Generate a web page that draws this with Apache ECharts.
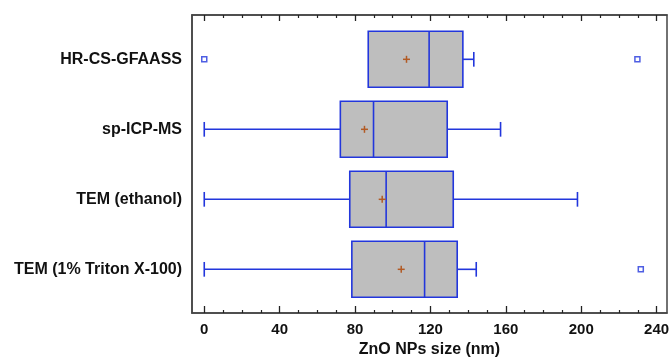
<!DOCTYPE html>
<html>
<head>
<meta charset="utf-8">
<script src="https://cdn.jsdelivr.net/npm/echarts@6/dist/echarts.min.js"></script>
<style>html,body{margin:0;padding:0;background:#fff}#c{width:670px;height:358px}</style>
</head>
<body>
<div id="c"></div>
<script>
const categories = ['HR-CS-GFAASS', 'sp-ICP-MS', 'TEM (ethanol)', 'TEM (1% Triton X-100)'];
const whiskerLow = [87, 0, 0, 0];
const q1 = [87, 72.2, 77.2, 78.3];
const median = [119.3, 89.8, 96.5, 116.9];
const q3 = [137.2, 128.9, 132.1, 134.2];
const whiskerHigh = [143, 157.2, 198, 144.3];
const means = [107.3, 85, 94.4, 104.5];
const outliers = [[0, 0], [229.8, 0], [231.6, 3]];
const majorTicks = [0, 40, 80, 120, 160, 200, 240];
const minorTicks = [10, 20, 30, 50, 60, 70, 90, 100, 110, 130, 140, 150, 170, 180, 190, 210, 220, 230];

const BLUE = '#2236dc';
const FRAME = '#444';
const FONT = '"Liberation Sans", Arial, sans-serif';

const boxData = categories.map((c, i) => [i, whiskerLow[i], q1[i], median[i], q3[i], whiskerHigh[i], means[i]]);

function renderBox(params, api) {
  const i = api.value(0);
  const lo = api.value(1), a = api.value(2), m = api.value(3), b = api.value(4), hi = api.value(5), mean = api.value(6);
  const hb = 0.4, hc = 0.105;
  const p = (x, y) => api.coord([x, y]);
  const children = [];
  const ls = { stroke: BLUE, lineWidth: 1.6, fill: null };
  const tl = p(a, i - hb), br = p(b, i + hb);
  children.push({ type: 'rect', shape: { x: tl[0], y: tl[1], width: br[0] - tl[0], height: br[1] - tl[1] },
    style: { fill: '#bebebe', stroke: BLUE, lineWidth: 1.6 } });
  const line = (x1, y1, x2, y2) => {
    const s = p(x1, y1), e = p(x2, y2);
    children.push({ type: 'line', shape: { x1: s[0], y1: s[1], x2: e[0], y2: e[1] }, style: ls });
  };
  line(m, i - hb, m, i + hb);
  if (lo < a) { line(lo, i, a, i); line(lo, i - hc, lo, i + hc); }
  if (hi > b) { line(b, i, hi, i); line(hi, i - hc, hi, i + hc); }
  const c = p(mean, i);
  const ms = 3.5;
  children.push({ type: 'line', shape: { x1: c[0] - ms, y1: c[1], x2: c[0] + ms, y2: c[1] }, style: { stroke: '#b25a24', lineWidth: 1.5 } });
  children.push({ type: 'line', shape: { x1: c[0], y1: c[1] - ms, x2: c[0], y2: c[1] + ms }, style: { stroke: '#b25a24', lineWidth: 1.5 } });
  return { type: 'group', children };
}

const xBase = { type: 'value', min: -6.5, max: 245.5, gridIndex: 0, splitLine: { show: false } };

const option = {
  animation: false,
  backgroundColor: '#fff',
  grid: { left: 192, right: 3, top: 15, bottom: 45, outerBoundsMode: 'none', containLabel: false,
    show: true, borderColor: FRAME, borderWidth: 1.5, backgroundColor: 'transparent' },
  xAxis: [
    Object.assign({}, xBase, {
      position: 'bottom',
      axisLine: { show: true, onZero: false, lineStyle: { color: FRAME, width: 1.5 } },
      axisTick: { show: true, inside: true, length: 7, customValues: majorTicks, lineStyle: { color: '#222', width: 1.3 } },
      axisLabel: { show: true, customValues: majorTicks, margin: 9, color: '#111', fontFamily: FONT, fontWeight: 'bold', fontSize: 15 },
      name: 'ZnO NPs size (nm)', nameLocation: 'middle', nameGap: 29,
      nameTextStyle: { color: '#111', fontFamily: FONT, fontWeight: 'bold', fontSize: 16 }
    }),
    Object.assign({}, xBase, {
      position: 'bottom',
      axisLine: { show: false, onZero: false },
      axisTick: { show: true, inside: true, length: 3, customValues: minorTicks, lineStyle: { color: '#222', width: 1.2 } },
      axisLabel: { show: false }
    }),
    Object.assign({}, xBase, {
      position: 'top',
      axisLine: { show: true, onZero: false, lineStyle: { color: FRAME, width: 1.5 } },
      axisTick: { show: true, inside: true, length: 6, customValues: majorTicks, lineStyle: { color: '#222', width: 1.3 } },
      axisLabel: { show: false }
    }),
    Object.assign({}, xBase, {
      position: 'top',
      axisLine: { show: false, onZero: false },
      axisTick: { show: true, inside: true, length: 3, customValues: minorTicks, lineStyle: { color: '#222', width: 1.2 } },
      axisLabel: { show: false }
    })
  ],
  yAxis: [{
    type: 'value', min: -0.633, max: 3.624, inverse: true,
    axisLine: { show: true, onZero: false, lineStyle: { color: FRAME, width: 1.5 } },
    axisTick: { show: false },
    splitLine: { show: false },
    axisLabel: {
      customValues: [0, 1, 2, 3], margin: 10,
      formatter: v => categories[Math.round(v)] || '',
      color: '#111', fontFamily: FONT, fontWeight: 'bold', fontSize: 16
    }
  }],
  series: [
    {
      type: 'custom', xAxisIndex: 0, yAxisIndex: 0,
      dimensions: ['cat', 'lo', 'q1', 'med', 'q3', 'hi', 'mean'],
      encode: { y: 'cat', x: ['lo', 'q1', 'med', 'q3', 'hi', 'mean'] },
      renderItem: renderBox,
      data: boxData
    },
    {
      type: 'scatter', xAxisIndex: 0, yAxisIndex: 0,
      symbol: 'rect', symbolSize: 5,
      itemStyle: { color: '#fff', borderColor: BLUE, borderWidth: 1.5 },
      data: outliers
    }
  ]
};

const chart = echarts.init(document.getElementById('c'), null, { renderer: 'canvas' });
chart.setOption(option);
</script>
</body>
</html>
